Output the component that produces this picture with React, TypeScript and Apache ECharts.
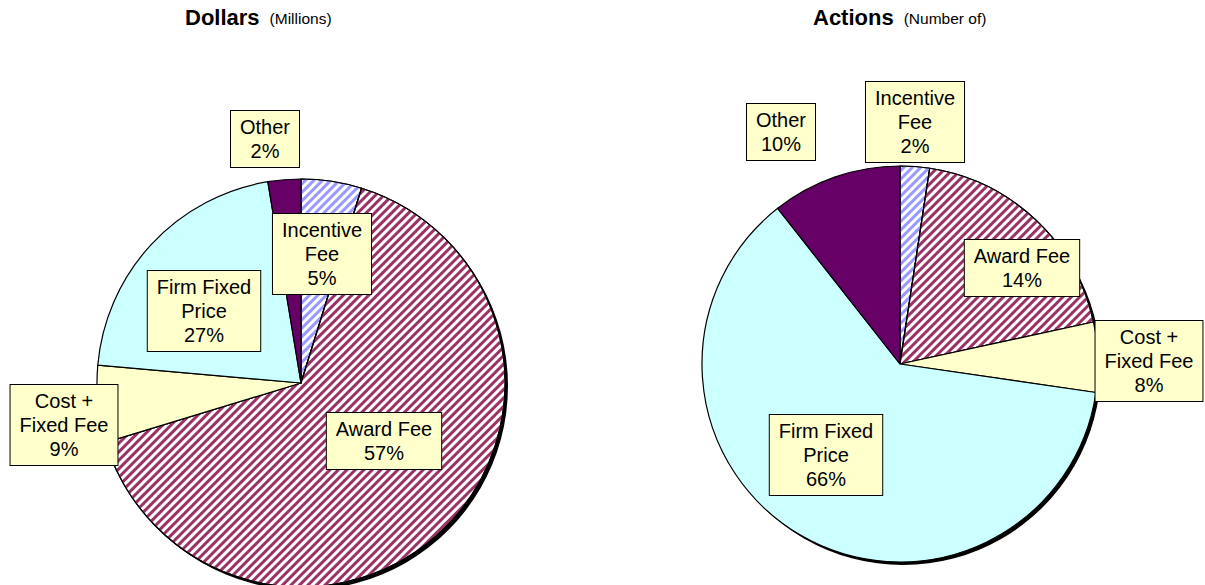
import React, { useEffect, useRef } from "react";
import * as echarts from "echarts";

// Categories (clockwise from 12 o'clock)
const categories = ["Incentive Fee", "Award Fee", "Cost + Fixed Fee", "Firm Fixed Price", "Other"];
const labelNames = ["Incentive\nFee", "Award Fee", "Cost +\nFixed Fee", "Firm Fixed\nPrice", "Other"];

// Dollars (Millions): slice shares as drawn, and printed percentages
const dollarsShares = [4.8, 65.5, 6.1, 21.0, 2.6];
const dollarsPct = [5, 57, 9, 27, 2];

// Actions (Number of): slice shares as drawn, and printed percentages
const actionsShares = [2.4, 19.2, 5.7, 62.1, 10.6];
const actionsPct = [2, 14, 8, 66, 10];

// label box centres (layout only)
const dollarsLabelPos = [[322, 254], [384, 441], [64, 425], [204, 311], [265, 139]];
const actionsLabelPos = [[915, 122], [1022, 268], [1149, 361], [826, 455], [781, 132]];

const FONT = "'Liberation Sans', Arial, sans-serif";

function stripe(color: string) {
  return {
    symbol: "rect",
    symbolSize: 1,
    color,
    backgroundColor: "#ffffff",
    dashArrayX: [1, 0],
    dashArrayY: [2.5, 2.5],
    rotation: -Math.PI / 4,
  };
}

const itemStyles = [
  { color: "#ffffff", decal: stripe("#9999FF") },
  { color: "#ffffff", decal: stripe("#993366") },
  { color: "#FFFFCC" },
  { color: "#CCFFFF" },
  { color: "#660066" },
];

function buildData(shares: number[], pct: number[]) {
  return categories.map((c, i) => ({
    name: c,
    value: shares[i],
    pct: pct[i],
    itemStyle: { ...itemStyles[i], borderColor: "#000", borderWidth: 1.2 },
  }));
}

function pieSeries(shares: number[], pct: number[], center: number[], radius: number, pos: number[][]) {
  return {
    type: "pie",
    center,
    radius,
    startAngle: 90,
    clockwise: true,
    avoidLabelOverlap: false,
    z: 3,
    data: buildData(shares, pct),
    label: {
      show: true,
      position: "inside",
      formatter: (p: any) => `${labelNames[p.dataIndex]}\n${pct[p.dataIndex]}%`,
      fontFamily: FONT,
      fontSize: 20,
      lineHeight: 24,
      color: "#000",
      backgroundColor: "#FFFFCC",
      borderColor: "#000",
      borderWidth: 1,
      padding: [4, 9, 4, 9],
      align: "center",
    },
    labelLine: { show: false },
    labelLayout: (p: any) => ({
      x: pos[p.dataIndex][0],
      y: pos[p.dataIndex][1],
      align: "center",
      verticalAlign: "middle",
    }),
    emphasis: { disabled: true },
  };
}

function shadowSeries(center: number[], radius: number) {
  return {
    type: "pie",
    center,
    radius,
    silent: true,
    z: 1,
    label: { show: false },
    labelLine: { show: false },
    data: [{ value: 1, name: "shadow", itemStyle: { color: "#000" } }],
    emphasis: { disabled: true },
  };
}

export default function App() {
  const ref = useRef<HTMLDivElement>(null);
  useEffect(() => {
    if (!ref.current) return;
    const chart = echarts.init(ref.current, undefined, { renderer: "svg" });
    const titleRich = {
      b: { fontFamily: FONT, fontSize: 22, fontWeight: "bold", color: "#000" },
      s: { fontFamily: FONT, fontSize: 15.5, fontWeight: "normal", color: "#000", padding: [3, 0, 0, 0] },
    };
    chart.setOption({
      animation: false,
      backgroundColor: "#ffffff",
      title: [
        { text: "{b|Dollars}  {s|(Millions)}", left: 185, top: 6, padding: 0, textStyle: { fontWeight: "normal", rich: titleRich } },
        { text: "{b|Actions}  {s|(Number of)}", left: 813, top: 6, padding: 0, textStyle: { fontWeight: "normal", rich: titleRich } },
      ],
      series: [
        shadowSeries([304, 386], 204),
        pieSeries(dollarsShares, dollarsPct, [301, 383], 204, dollarsLabelPos),
        shadowSeries([903, 367], 198),
        pieSeries(actionsShares, actionsPct, [900, 364], 198, actionsLabelPos),
      ],
    });
    return () => chart.dispose();
  }, []);
  return (
    <div
      ref={ref}
      style={{ position: "fixed", left: 0, top: 0, width: 1205, height: 585 }}
    />
  );
}
